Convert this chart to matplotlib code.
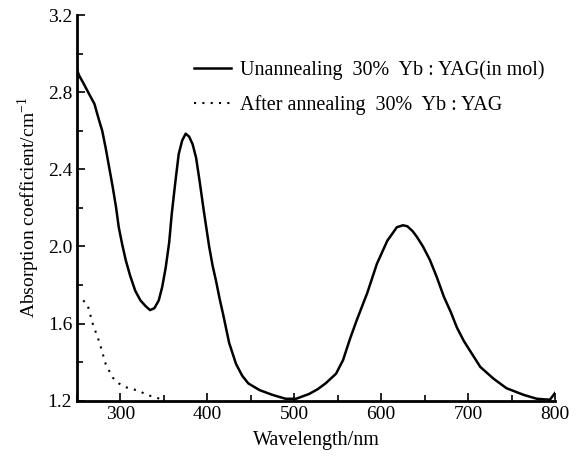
import numpy as np
import matplotlib
matplotlib.use('Agg')
import matplotlib.pyplot as plt
from matplotlib.ticker import MultipleLocator

plt.rcParams['font.family'] = ['Liberation Serif', 'DejaVu Serif']
plt.rcParams['mathtext.fontset'] = 'custom'
plt.rcParams['mathtext.rm'] = 'Liberation Serif'

# unannealed sample
wl_un = [250, 252, 257, 264, 270, 275, 279, 283, 287, 291, 295, 298, 302, 306, 311,
         317, 323, 329, 334, 339, 344, 348, 352, 356, 359, 363, 367, 371, 375, 379,
         383, 387, 391, 396, 402, 406, 410, 414, 418, 425, 433, 440, 447, 460, 475,
         490, 502, 517, 527, 536, 548, 556, 564, 572, 584, 595, 607, 618, 625, 630,
         636, 641, 648, 656, 664, 672, 680, 687, 695, 702, 714, 729, 744, 764, 779,
         794, 800]
abs_un = [2.92, 2.89, 2.85, 2.79, 2.74, 2.66, 2.60, 2.51, 2.41, 2.31, 2.20, 2.10, 2.01, 1.93, 1.85,
          1.77, 1.72, 1.69, 1.67, 1.68, 1.72, 1.79, 1.89, 2.02, 2.17, 2.33, 2.48, 2.55, 2.585, 2.57,
          2.53, 2.46, 2.34, 2.18, 2.00, 1.90, 1.82, 1.73, 1.65, 1.50, 1.39, 1.33, 1.29, 1.255, 1.23,
          1.21, 1.21, 1.235, 1.26, 1.29, 1.34, 1.41, 1.52, 1.62, 1.76, 1.91, 2.03, 2.10, 2.11, 2.105,
          2.08, 2.05, 2.00, 1.93, 1.84, 1.74, 1.66, 1.58, 1.51, 1.46, 1.375, 1.315, 1.265, 1.23, 1.21,
          1.205, 1.24]

# annealed sample
wl_an = [257, 262, 268, 276, 283, 291, 298, 306, 314, 322, 330, 339, 345]
abs_an = [1.72, 1.70, 1.60, 1.50, 1.39, 1.32, 1.29, 1.27, 1.26, 1.25, 1.23, 1.22, 1.21]

fig = plt.figure(figsize=(5.88, 4.59), dpi=100)
ax = fig.add_axes([0.131, 0.127, 0.813, 0.840])

ax.plot(wl_un, abs_un, color='black', lw=1.8,
        label='Unannealing  30%  Yb : YAG(in mol)')
ax.plot(wl_an, abs_an, color='black', lw=1.5, linestyle=(0, (1, 3)),
        label='After annealing  30%  Yb : YAG')

ax.set_xlim(250, 800)
ax.set_ylim(1.2, 3.2)
ax.xaxis.set_minor_locator(MultipleLocator(50))
ax.yaxis.set_minor_locator(MultipleLocator(0.2))
ax.set_xticks([300, 400, 500, 600, 700, 800])
ax.set_yticks([1.2, 1.6, 2.0, 2.4, 2.8, 3.2])
ax.set_yticklabels(['1.2', '1.6', '2.0', '2.4', '2.8', '3.2'])

for s in ['top', 'right']:
    ax.spines[s].set_visible(False)
for s in ['left', 'bottom']:
    ax.spines[s].set_linewidth(2)
ax.tick_params(which='both', direction='in', width=1.2, labelsize=14)
ax.tick_params(which='major', length=6)
ax.tick_params(which='minor', length=4)

ax.set_xlabel('Wavelength/nm', fontsize=14.5, labelpad=6)
ax.set_ylabel('Absorption coefficient/cm$^{-1}$', fontsize=14, labelpad=4)

ax.legend(loc='upper left', bbox_to_anchor=(0.245, 0.882), frameon=False,
          fontsize=14.5, handlelength=1.85, handletextpad=0.42, labelspacing=0.75,
          borderpad=0, borderaxespad=0)

fig.savefig('out.png', dpi=100)
